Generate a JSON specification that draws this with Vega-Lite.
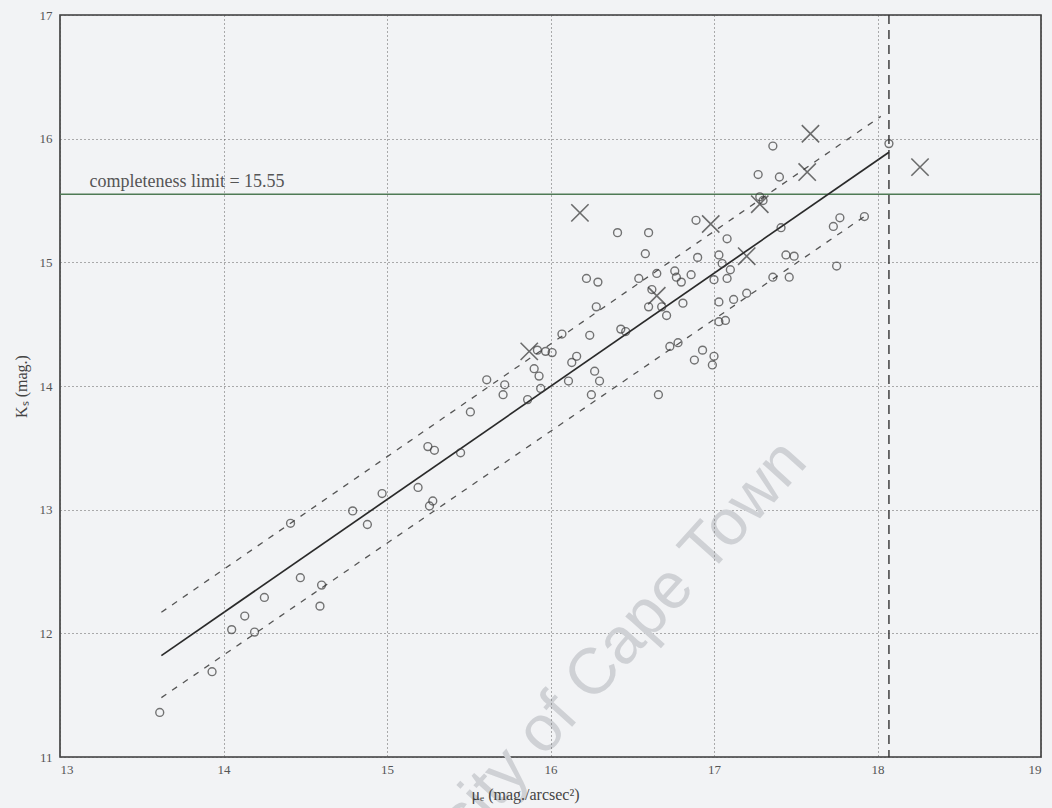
{
  "$schema": "https://vega.github.io/schema/vega-lite/v6.json",
  "width": 981,
  "height": 742,
  "autosize": {"type": "none"},
  "padding": {"left": 60, "top": 15, "right": 11, "bottom": 51},
  "background": "#f2f3f5",
  "config": {
    "view": {"stroke": "#3a3a3a", "strokeWidth": 1.6},
    "axis": {
      "labelFont": "Liberation Serif",
      "labelFontSize": 13,
      "labelColor": "#555555",
      "titleFont": "Liberation Serif",
      "titleFontSize": 16,
      "titleFontWeight": "normal",
      "titleColor": "#444444",
      "grid": true,
      "gridColor": "#505050",
      "gridDash": [1, 3],
      "gridWidth": 1,
      "gridOpacity": 0.9,
      "domain": false,
      "ticks": false,
      "format": "d"
    }
  },
  "datasets": {
    "galaxies": [
      {"mu_e": 13.61, "Ks": 11.36, "kind": "circle"},
      {"mu_e": 13.93, "Ks": 11.69, "kind": "circle"},
      {"mu_e": 14.05, "Ks": 12.03, "kind": "circle"},
      {"mu_e": 14.13, "Ks": 12.14, "kind": "circle"},
      {"mu_e": 14.19, "Ks": 12.01, "kind": "circle"},
      {"mu_e": 14.25, "Ks": 12.29, "kind": "circle"},
      {"mu_e": 14.41, "Ks": 12.89, "kind": "circle"},
      {"mu_e": 14.47, "Ks": 12.45, "kind": "circle"},
      {"mu_e": 14.59, "Ks": 12.22, "kind": "circle"},
      {"mu_e": 14.6, "Ks": 12.39, "kind": "circle"},
      {"mu_e": 14.79, "Ks": 12.99, "kind": "circle"},
      {"mu_e": 14.88, "Ks": 12.88, "kind": "circle"},
      {"mu_e": 14.97, "Ks": 13.13, "kind": "circle"},
      {"mu_e": 15.19, "Ks": 13.18, "kind": "circle"},
      {"mu_e": 15.26, "Ks": 13.03, "kind": "circle"},
      {"mu_e": 15.28, "Ks": 13.07, "kind": "circle"},
      {"mu_e": 15.25, "Ks": 13.51, "kind": "circle"},
      {"mu_e": 15.29, "Ks": 13.48, "kind": "circle"},
      {"mu_e": 15.45, "Ks": 13.46, "kind": "circle"},
      {"mu_e": 15.51, "Ks": 13.79, "kind": "circle"},
      {"mu_e": 15.61, "Ks": 14.05, "kind": "circle"},
      {"mu_e": 15.71, "Ks": 13.93, "kind": "circle"},
      {"mu_e": 15.72, "Ks": 14.01, "kind": "circle"},
      {"mu_e": 15.86, "Ks": 13.89, "kind": "circle"},
      {"mu_e": 15.9, "Ks": 14.14, "kind": "circle"},
      {"mu_e": 15.93, "Ks": 14.08, "kind": "circle"},
      {"mu_e": 15.94, "Ks": 13.98, "kind": "circle"},
      {"mu_e": 15.92, "Ks": 14.29, "kind": "circle"},
      {"mu_e": 15.97, "Ks": 14.28, "kind": "circle"},
      {"mu_e": 16.01, "Ks": 14.27, "kind": "circle"},
      {"mu_e": 16.07, "Ks": 14.42, "kind": "circle"},
      {"mu_e": 16.11, "Ks": 14.04, "kind": "circle"},
      {"mu_e": 16.13, "Ks": 14.19, "kind": "circle"},
      {"mu_e": 16.16, "Ks": 14.24, "kind": "circle"},
      {"mu_e": 16.22, "Ks": 14.87, "kind": "circle"},
      {"mu_e": 16.24, "Ks": 14.41, "kind": "circle"},
      {"mu_e": 16.25, "Ks": 13.93, "kind": "circle"},
      {"mu_e": 16.27, "Ks": 14.12, "kind": "circle"},
      {"mu_e": 16.28, "Ks": 14.64, "kind": "circle"},
      {"mu_e": 16.29, "Ks": 14.84, "kind": "circle"},
      {"mu_e": 16.3, "Ks": 14.04, "kind": "circle"},
      {"mu_e": 16.41, "Ks": 15.24, "kind": "circle"},
      {"mu_e": 16.43, "Ks": 14.46, "kind": "circle"},
      {"mu_e": 16.46, "Ks": 14.44, "kind": "circle"},
      {"mu_e": 16.54, "Ks": 14.87, "kind": "circle"},
      {"mu_e": 16.58, "Ks": 15.07, "kind": "circle"},
      {"mu_e": 16.6, "Ks": 15.24, "kind": "circle"},
      {"mu_e": 16.6, "Ks": 14.64, "kind": "circle"},
      {"mu_e": 16.62, "Ks": 14.78, "kind": "circle"},
      {"mu_e": 16.65, "Ks": 14.91, "kind": "circle"},
      {"mu_e": 16.66, "Ks": 13.93, "kind": "circle"},
      {"mu_e": 16.68, "Ks": 14.64, "kind": "circle"},
      {"mu_e": 16.71, "Ks": 14.57, "kind": "circle"},
      {"mu_e": 16.73, "Ks": 14.32, "kind": "circle"},
      {"mu_e": 16.76, "Ks": 14.93, "kind": "circle"},
      {"mu_e": 16.77, "Ks": 14.88, "kind": "circle"},
      {"mu_e": 16.78, "Ks": 14.35, "kind": "circle"},
      {"mu_e": 16.8, "Ks": 14.84, "kind": "circle"},
      {"mu_e": 16.81, "Ks": 14.67, "kind": "circle"},
      {"mu_e": 16.86, "Ks": 14.9, "kind": "circle"},
      {"mu_e": 16.88, "Ks": 14.21, "kind": "circle"},
      {"mu_e": 16.89, "Ks": 15.34, "kind": "circle"},
      {"mu_e": 16.9, "Ks": 15.04, "kind": "circle"},
      {"mu_e": 16.93, "Ks": 14.29, "kind": "circle"},
      {"mu_e": 17.0, "Ks": 14.24, "kind": "circle"},
      {"mu_e": 16.99, "Ks": 14.17, "kind": "circle"},
      {"mu_e": 17.0, "Ks": 14.86, "kind": "circle"},
      {"mu_e": 17.03, "Ks": 15.06, "kind": "circle"},
      {"mu_e": 17.05, "Ks": 14.99, "kind": "circle"},
      {"mu_e": 17.03, "Ks": 14.68, "kind": "circle"},
      {"mu_e": 17.03, "Ks": 14.52, "kind": "circle"},
      {"mu_e": 17.07, "Ks": 14.53, "kind": "circle"},
      {"mu_e": 17.08, "Ks": 15.19, "kind": "circle"},
      {"mu_e": 17.08, "Ks": 14.87, "kind": "circle"},
      {"mu_e": 17.1, "Ks": 14.94, "kind": "circle"},
      {"mu_e": 17.12, "Ks": 14.7, "kind": "circle"},
      {"mu_e": 17.2, "Ks": 14.75, "kind": "circle"},
      {"mu_e": 17.27, "Ks": 15.71, "kind": "circle"},
      {"mu_e": 17.28, "Ks": 15.53, "kind": "circle"},
      {"mu_e": 17.3, "Ks": 15.5, "kind": "circle"},
      {"mu_e": 17.36, "Ks": 15.94, "kind": "circle"},
      {"mu_e": 17.36, "Ks": 14.88, "kind": "circle"},
      {"mu_e": 17.4, "Ks": 15.69, "kind": "circle"},
      {"mu_e": 17.41, "Ks": 15.28, "kind": "circle"},
      {"mu_e": 17.44, "Ks": 15.06, "kind": "circle"},
      {"mu_e": 17.49, "Ks": 15.05, "kind": "circle"},
      {"mu_e": 17.46, "Ks": 14.88, "kind": "circle"},
      {"mu_e": 17.73, "Ks": 15.29, "kind": "circle"},
      {"mu_e": 17.77, "Ks": 15.36, "kind": "circle"},
      {"mu_e": 17.75, "Ks": 14.97, "kind": "circle"},
      {"mu_e": 17.92, "Ks": 15.37, "kind": "circle"},
      {"mu_e": 18.07, "Ks": 15.96, "kind": "circle"},
      {"mu_e": 15.87, "Ks": 14.28, "kind": "cross"},
      {"mu_e": 16.18, "Ks": 15.4, "kind": "cross"},
      {"mu_e": 16.65, "Ks": 14.73, "kind": "cross"},
      {"mu_e": 16.98, "Ks": 15.31, "kind": "cross"},
      {"mu_e": 17.2, "Ks": 15.05, "kind": "cross"},
      {"mu_e": 17.28, "Ks": 15.47, "kind": "cross"},
      {"mu_e": 17.57, "Ks": 15.73, "kind": "cross"},
      {"mu_e": 17.59, "Ks": 16.04, "kind": "cross"},
      {"mu_e": 18.26, "Ks": 15.77, "kind": "cross"}
    ],
    "fit": [
      {"band": "fit", "mu_e": 13.62, "Ks": 11.82},
      {"band": "fit", "mu_e": 18.07, "Ks": 15.89}
    ],
    "bounds": [
      {"band": "upper", "mu_e": 13.62, "Ks": 12.17},
      {"band": "upper", "mu_e": 18.02, "Ks": 16.18},
      {"band": "lower", "mu_e": 13.62, "Ks": 11.48},
      {"band": "lower", "mu_e": 17.93, "Ks": 15.38}
    ],
    "limits": [
      {"Ks_limit": 15.55, "mu_e_limit": 18.07, "label": "completeness limit = 15.55", "label_x": 13.18}
    ],
    "mark_text": [
      {"label": "University of Cape Town", "mu_e": 16.06, "Ks": 11.38}
    ]
  },
  "layer": [
    {
      "data": {"name": "mark_text"},
      "mark": {"type": "text", "font": "Liberation Sans", "fontSize": 65, "angle": -48, "color": "#cfd1d5", "align": "center", "baseline": "middle", "clip": false},
      "encoding": {
        "x": {"field": "mu_e", "type": "quantitative", "scale": {"domain": [13, 19]}, "axis": {"values": [13, 14, 15, 16, 17, 18, 19], "title": "μₑ (mag./arcsec²)", "labelPadding": 6, "titleX": 465, "titlePadding": 10, "zindex": 1}},
        "y": {"field": "Ks", "type": "quantitative", "scale": {"domain": [11, 17]}, "axis": {"values": [11, 12, 13, 14, 15, 16, 17], "title": "Kₛ (mag.)", "labelPadding": 8, "titlePadding": 10}},
        "text": {"field": "label"}
      }
    },
    {
      "data": {"name": "limits"},
      "mark": {"type": "rule", "color": "#4f7a55", "strokeWidth": 1.6},
      "encoding": {"y": {"field": "Ks_limit", "type": "quantitative"}}
    },
    {
      "data": {"name": "limits"},
      "mark": {"type": "rule", "color": "#333333", "strokeWidth": 1.4, "strokeDash": [9, 6]},
      "encoding": {"x": {"field": "mu_e_limit", "type": "quantitative"}}
    },
    {
      "data": {"name": "limits"},
      "mark": {"type": "text", "font": "Liberation Serif", "fontSize": 18, "color": "#555555", "align": "left", "baseline": "alphabetic", "dy": -7},
      "encoding": {
        "x": {"field": "label_x", "type": "quantitative"},
        "y": {"field": "Ks_limit", "type": "quantitative"},
        "text": {"field": "label"}
      }
    },
    {
      "data": {"name": "bounds"},
      "mark": {"type": "line", "color": "#555555", "strokeWidth": 1.3, "strokeDash": [6, 7]},
      "encoding": {
        "x": {"field": "mu_e", "type": "quantitative"},
        "y": {"field": "Ks", "type": "quantitative"},
        "detail": {"field": "band"}
      }
    },
    {
      "data": {"name": "fit"},
      "mark": {"type": "line", "color": "#2a2a2a", "strokeWidth": 1.7},
      "encoding": {
        "x": {"field": "mu_e", "type": "quantitative"},
        "y": {"field": "Ks", "type": "quantitative"}
      }
    },
    {
      "data": {"name": "galaxies"},
      "transform": [{"filter": "datum.kind === 'circle'"}],
      "mark": {"type": "point", "shape": "circle", "size": 62, "filled": false, "stroke": "#3c3c3c", "strokeWidth": 1.4},
      "encoding": {
        "x": {"field": "mu_e", "type": "quantitative"},
        "y": {"field": "Ks", "type": "quantitative"}
      }
    },
    {
      "data": {"name": "galaxies"},
      "transform": [{"filter": "datum.kind === 'cross'"}],
      "mark": {"type": "point", "shape": "M-1,-1L1,1M1,-1L-1,1", "size": 300, "filled": false, "stroke": "#333333", "strokeWidth": 1.6},
      "encoding": {
        "x": {"field": "mu_e", "type": "quantitative"},
        "y": {"field": "Ks", "type": "quantitative"}
      }
    }
  ]
}
